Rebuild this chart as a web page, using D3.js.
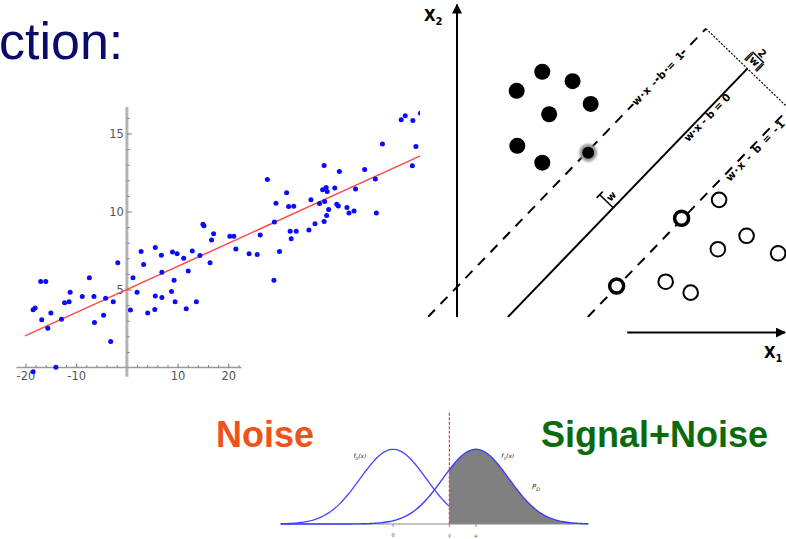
<!DOCTYPE html>
<html>
<head>
<meta charset="utf-8">
<script src="https://cdn.jsdelivr.net/npm/d3@7"></script>
<style>
  body { margin: 0; background: #fff; }
  svg { display: block; }
</style>
</head>
<body>
<div class="svg-container"></div>
<script>
// ---- regression scatter ----
const scatterPoints = [
  [-18.5, 3.70], [-18.1, 3.82], [-17.0, 5.51], [-16.0, 5.51], [-16.8, 3.06], [-15.6, 2.52],
  [-15.0, 3.50], [-12.9, 3.10], [-12.3, 4.15], [-11.4, 4.21], [-11.2, 4.83], [-8.8, 4.55],
  [-7.4, 5.75], [-6.5, 4.55], [-6.4, 2.88], [-4.6, 3.35], [-4.2, 4.44], [-3.2, 1.67],
  [-2.7, 4.21], [-1.8, 6.71], [0.7, 3.68], [1.2, 5.75], [2.0, 4.83], [2.8, 7.44],
  [3.3, 6.60], [4.1, 3.50], [5.6, 7.69], [5.6, 4.59], [5.5, 3.72], [6.8, 7.20],
  [6.9, 6.11], [6.9, 4.49], [8.8, 4.87], [9.0, 7.41], [9.3, 5.60], [9.9, 7.29],
  [9.5, 4.21], [11.2, 7.01], [11.7, 3.76], [12.1, 6.18], [12.9, 7.46], [13.7, 4.21],
  [14.4, 7.18], [15.0, 9.19], [15.2, 9.08], [16.4, 6.71], [16.7, 8.18], [17.1, 8.57],
  [20.3, 8.42], [21.1, 8.42], [21.5, 7.59], [24.1, 7.29], [25.7, 7.24], [26.3, 8.50],
  [27.7, 12.05], [29.0, 5.60], [29.1, 9.32], [29.4, 10.53], [30.1, 7.44], [31.5, 11.20],
  [31.9, 10.32], [32.2, 8.74], [32.4, 8.25], [32.9, 10.34], [33.4, 8.74], [35.9, 8.82],
  [36.3, 10.75], [37.1, 9.21], [38.0, 10.51], [38.6, 11.39], [38.9, 12.95], [38.9, 9.36],
  [39.0, 10.64], [39.3, 11.54], [39.4, 9.74], [39.5, 11.28], [39.8, 10.13], [41.0, 11.50],
  [41.4, 10.47], [41.7, 10.36], [41.9, 12.56], [43.4, 10.26], [43.8, 9.91], [44.8, 10.04],
  [45.1, 11.45], [46.9, 12.69], [49.0, 12.09], [49.2, 9.91], [50.4, 14.32], [54.1, 15.88],
  [54.9, 16.13], [56.3, 12.93], [56.4, 15.83], [57.0, 14.17], [57.9, 16.30],
  [-18.5, -0.27], [-14.0, 0.01]
];
const fitIntercept = 5.0;
const fitSlope = 0.148;
const fitRange = [-20.1, 58.6];
const scatterXTicks = [-20, -10, 10, 20];
const scatterYTicks = [5, 10, 15];

// ---- SVM diagram (x1, x2 units) ----
const svmW = [-0.391, 0.377];
const svmB = -0.637;
const marginLevels = [1, 0, -1];
const marginLabels = ['w\u00b7x - b = 1', 'w\u00b7x - b = 0', 'w\u00b7x - b = -1'];
const classA = [[1.91, 7.24], [2.73, 7.85], [3.70, 7.55], [4.28, 6.82], [2.95, 6.49], [1.93, 5.48], [2.73, 4.94]];
const classASupport = [[4.20, 5.26]];
const classB = [[8.39, 3.75], [9.27, 2.60], [8.35, 2.17], [10.28, 2.04], [6.68, 1.13], [7.48, 0.78]];
const classBSupport = [[7.19, 3.16], [5.11, 0.99]];

// ---- signal detection ----
const noiseMean = 0;
const signalMean = 2.5;
const spread = 1;
const threshold = 1.7;
const sdDomain = [-3.4, 5.9];
const sdTicks = [[0, '0'], [1.7, '\u03b3'], [2.5, '\u03bc']];

const width = 786;
const height = 539;

const svg = d3.select('.svg-container')
  .append('svg')
  .attr('width', width)
  .attr('height', height);

const defs = svg.append('defs');
defs.append('clipPath').attr('id', 'scatterClip')
  .append('rect').attr('x', 0).attr('y', 90).attr('width', 420).attr('height', 300);
defs.append('clipPath').attr('id', 'svmClip')
  .append('rect').attr('x', 428).attr('y', 0).attr('width', 358).attr('height', 317);
defs.append('marker').attr('id', 'arrow')
  .attr('viewBox', '0 0 10 10').attr('refX', 9).attr('refY', 5)
  .attr('markerWidth', 5).attr('markerHeight', 5).attr('orient', 'auto')
  .append('path').attr('d', 'M0,0 L10,5 L0,10 z').attr('fill', '#000');
defs.append('filter').attr('id', 'soft')
  .append('feGaussianBlur').attr('stdDeviation', 1.2);

// slide title fragment
svg.append('text')
  .attr('x', -1).attr('y', 59)
  .style('font-family', 'Liberation Sans, Arial, sans-serif')
  .style('font-size', '52px')
  .style('fill', '#0b0b6b')
  .text('ction:');

// ================= scatter =================
const sx = d3.scaleLinear().domain([-20, 20]).range([25.5, 228.3]);
const sy = d3.scaleLinear().domain([0, 15]).range([367.5, 133.5]);

const sc = svg.append('g').attr('clip-path', 'url(#scatterClip)');

// axis lines
sc.append('line')
  .attr('x1', sx(0)).attr('x2', sx(0))
  .attr('y1', sy(16.7)).attr('y2', sy(-0.6))
  .attr('stroke', '#b4b4b4').attr('stroke-width', 3);
sc.append('line')
  .attr('x1', sx(-21.8)).attr('x2', sx(22.6))
  .attr('y1', sy(0)).attr('y2', sy(0))
  .attr('stroke', '#9a9a9a').attr('stroke-width', 1.6);

// minor ticks
const xMinor = d3.range(-20, 23, 2).filter(d => d % 10 !== 0);
const yMinor = d3.range(1, 17, 1).filter(d => d % 5 !== 0);

sc.append('g')
  .attr('transform', `translate(0,${sy(0)})`)
  .call(d3.axisBottom(sx).tickValues(xMinor).tickSize(-2.5).tickFormat(''))
  .call(g => g.select('.domain').remove())
  .call(g => g.selectAll('line').attr('stroke', '#888'));
sc.append('g')
  .attr('transform', `translate(${sx(0)},0)`)
  .call(d3.axisLeft(sy).tickValues(yMinor).tickSize(-3).tickFormat(''))
  .call(g => g.select('.domain').remove())
  .call(g => g.selectAll('line').attr('stroke', '#888'));

// major ticks + labels
sc.append('g')
  .attr('transform', `translate(0,${sy(0)})`)
  .call(d3.axisBottom(sx).tickValues(scatterXTicks).tickFormat(d => String(d))
    .tickSizeInner(-4).tickSizeOuter(0).tickPadding(4))
  .call(g => g.select('.domain').remove())
  .call(g => g.selectAll('line').attr('stroke', '#777'))
  .call(g => g.selectAll('text')
    .style('font-family', 'DejaVu Sans, sans-serif')
    .style('font-size', '11.5px')
    .attr('fill', '#555'));
sc.append('g')
  .attr('transform', `translate(${sx(0)},0)`)
  .call(d3.axisLeft(sy).tickValues(scatterYTicks).tickFormat(d => String(d))
    .tickSizeInner(-5).tickSizeOuter(0).tickPadding(3))
  .call(g => g.select('.domain').remove())
  .call(g => g.selectAll('line').attr('stroke', '#777'))
  .call(g => g.selectAll('text')
    .style('font-family', 'DejaVu Sans, sans-serif')
    .style('font-size', '11.5px')
    .attr('fill', '#555'));

// fitted line
sc.append('path')
  .datum(fitRange)
  .attr('d', d3.line().x(d => sx(d)).y(d => sy(fitIntercept + fitSlope * d)))
  .attr('stroke', '#ff4a4a')
  .attr('stroke-width', 1.5)
  .attr('fill', 'none');

sc.selectAll('circle.pt')
  .data(scatterPoints)
  .enter()
  .append('circle')
  .attr('class', 'pt')
  .attr('cx', d => sx(d[0]))
  .attr('cy', d => sy(d[1]))
  .attr('r', 2.5)
  .attr('fill', '#0a0aff');

// ================= SVM =================
const ux = d3.scaleLinear().domain([0, 10.5]).range([457, 785]);
const vy = d3.scaleLinear().domain([0, 10]).range([317, 4.6]);

const wNorm = Math.hypot(svmW[0], svmW[1]);
const nHat = [svmW[0] / wNorm, svmW[1] / wNorm];      // toward class A
const along = [nHat[1], -nHat[0]];                      // along the hyperplane, up-right
const marginGap = 1 / wNorm;

// point on the "= 1" line where the margin measure starts
const topU = 7.97;
const topV = (1 + svmB - svmW[0] * topU) / svmW[1];
const endOf = c => [topU - (1 - c) * marginGap * nHat[0], topV - (1 - c) * marginGap * nHat[1]];
const startOf = c => [(c + svmB) / svmW[0], 0];

const sv = svg.append('g').attr('clip-path', 'url(#svmClip)');

sv.selectAll('line.hyper')
  .data(marginLevels)
  .enter()
  .append('line')
  .attr('class', 'hyper')
  .attr('x1', c => ux(startOf(c)[0])).attr('y1', c => vy(startOf(c)[1]))
  .attr('x2', c => ux(endOf(c)[0])).attr('y2', c => vy(endOf(c)[1]))
  .attr('stroke', '#000')
  .attr('stroke-width', 2)
  .attr('stroke-dasharray', c => c === 0 ? null : '10,8');

// margin measure (dotted)
const mEnd = endOf(-1.1);
sv.append('line')
  .attr('x1', ux(topU)).attr('y1', vy(topV))
  .attr('x2', ux(mEnd[0])).attr('y2', vy(mEnd[1]))
  .attr('stroke', '#000').attr('stroke-width', 1.2)
  .attr('stroke-dasharray', '2,1.5');

// 2/||w|| label
const mid = endOf(0);
const fracPos = [ux(mid[0] + 0.5 * along[0]), vy(mid[1] + 0.5 * along[1])];
const frac = svg.append('g')
  .attr('transform', `translate(${fracPos[0]},${fracPos[1]}) rotate(44)`)
  .style('font-family', 'DejaVu Sans, sans-serif')
  .style('font-weight', 'bold')
  .style('font-size', '10.5px');
frac.append('line').attr('x1', -8).attr('x2', 8).attr('y1', 0).attr('y2', 0)
  .attr('stroke', '#000').attr('stroke-width', 1.5);
frac.append('text').attr('text-anchor', 'middle').attr('y', -2).text('2');
frac.append('text').attr('text-anchor', 'middle').attr('y', 9).text('\u2016w\u2016');

// hyperplane labels
const labelU = [6.43, 7.90, 9.43];
const labelOffset = [0, 5, 5];
const labelLen = [70, 62, 80];
marginLevels.forEach((c, i) => {
  const v = (c + svmB - svmW[0] * labelU[i]) / svmW[1];
  const px = ux(labelU[i]) + 0.695 * labelOffset[i];
  const py = vy(v) + 0.719 * labelOffset[i];
  svg.append('text')
    .attr('transform', `translate(${px},${py}) rotate(-46)`)
    .attr('text-anchor', 'middle')
    .attr('dy', '0.35em')
    .attr('textLength', labelLen[i])
    .attr('lengthAdjust', 'spacing')
    .style('font-family', 'DejaVu Sans, sans-serif')
    .style('font-weight', 'bold')
    .style('font-size', '10.5px')
    .style('paint-order', 'stroke')
    .style('stroke', '#fff')
    .style('stroke-width', c === 1 ? 3 : 0)
    .text(marginLabels[i]);
});

// w vector
const wU = 5.0;
const wBase = [wU, (svmB - svmW[0] * wU) / svmW[1]];
const wTip = [wBase[0] + 0.6 * nHat[0], wBase[1] + 0.6 * nHat[1]];
svg.append('line')
  .attr('x1', ux(wBase[0])).attr('y1', vy(wBase[1]))
  .attr('x2', ux(wTip[0])).attr('y2', vy(wTip[1]))
  .attr('stroke', '#000').attr('stroke-width', 1.6);
svg.append('line')
  .attr('x1', ux(wTip[0] - 0.14 * along[0])).attr('y1', vy(wTip[1] - 0.14 * along[1]))
  .attr('x2', ux(wTip[0] + 0.14 * along[0])).attr('y2', vy(wTip[1] + 0.14 * along[1]))
  .attr('stroke', '#000').attr('stroke-width', 1.6);
const wLab = [wBase[0] + 0.3 * nHat[0] + 0.22 * along[0], wBase[1] + 0.3 * nHat[1] + 0.22 * along[1]];
svg.append('text')
  .attr('transform', `translate(${ux(wLab[0])},${vy(wLab[1])}) rotate(-46)`)
  .attr('text-anchor', 'middle').attr('dy', '0.35em')
  .style('font-family', 'DejaVu Sans, sans-serif')
  .style('font-weight', 'bold')
  .style('font-size', '10px')
  .text('w');

// class A (filled)
svg.selectAll('circle.a')
  .data(classA).enter().append('circle').attr('class', 'a')
  .attr('cx', d => ux(d[0])).attr('cy', d => vy(d[1]))
  .attr('r', 8).attr('fill', '#000');
svg.selectAll('circle.ahalo')
  .data(classASupport).enter().append('circle').attr('class', 'ahalo')
  .attr('cx', d => ux(d[0])).attr('cy', d => vy(d[1]))
  .attr('r', 9).attr('fill', '#9a9a9a').attr('filter', 'url(#soft)');
svg.selectAll('circle.asv')
  .data(classASupport).enter().append('circle').attr('class', 'asv')
  .attr('cx', d => ux(d[0])).attr('cy', d => vy(d[1]))
  .attr('r', 6).attr('fill', '#000');

// class B (open)
svg.selectAll('circle.b')
  .data(classB).enter().append('circle').attr('class', 'b')
  .attr('cx', d => ux(d[0])).attr('cy', d => vy(d[1]))
  .attr('r', 7.3).attr('fill', '#fff').attr('stroke', '#000').attr('stroke-width', 2);
svg.selectAll('circle.bsv')
  .data(classBSupport).enter().append('circle').attr('class', 'bsv')
  .attr('cx', d => ux(d[0])).attr('cy', d => vy(d[1]))
  .attr('r', 7).attr('fill', '#fff').attr('stroke', '#000').attr('stroke-width', 3.5);

// axes with arrows
svg.append('line')
  .attr('x1', ux(0)).attr('y1', vy(0)).attr('x2', ux(0)).attr('y2', vy(10))
  .attr('stroke', '#000').attr('stroke-width', 2).attr('marker-end', 'url(#arrow)');
svg.append('line')
  .attr('x1', ux(5.45)).attr('y1', vy(-0.5)).attr('x2', ux(10.5)).attr('y2', vy(-0.5))
  .attr('stroke', '#000').attr('stroke-width', 2).attr('marker-end', 'url(#arrow)');

const axisLab = (x, y, sub) => {
  const t = svg.append('text').attr('x', x).attr('y', y)
    .style('font-family', 'DejaVu Sans, sans-serif')
    .style('font-weight', 'bold')
    .style('font-size', '15px');
  t.append('tspan').text('X');
  t.append('tspan').attr('dy', 4).style('font-size', '10px').text(sub);
};
axisLab(424, 21, '2');
axisLab(764, 358, '1');

// ================= signal detection =================
const dx = d3.scaleLinear().domain(sdDomain).range([280.7, 588.3]);
const dy = d3.scaleLinear().domain([0, 1 / Math.sqrt(2 * Math.PI)]).range([524, 449.3]);
const pdf = (x, m) => Math.exp(-0.5 * ((x - m) / spread) ** 2) / (spread * Math.sqrt(2 * Math.PI));

const grid = d3.range(sdDomain[0], sdDomain[1] + 0.001, 0.05);
const tail = [threshold].concat(grid.filter(x => x > threshold));
const head = grid.filter(x => x < threshold).concat([threshold]);

svg.append('path')
  .datum(tail)
  .attr('d', d3.area().x(d => dx(d)).y0(dy(0)).y1(d => dy(pdf(d, signalMean))))
  .attr('fill', '#808080');

svg.append('line')
  .attr('x1', dx(sdDomain[0])).attr('x2', dx(sdDomain[1]))
  .attr('y1', dy(0)).attr('y2', dy(0))
  .attr('stroke', '#888').attr('stroke-width', 1);

svg.selectAll('line.sdtick')
  .data(sdTicks).enter().append('line').attr('class', 'sdtick')
  .attr('x1', d => dx(d[0])).attr('x2', d => dx(d[0]))
  .attr('y1', dy(0)).attr('y2', dy(0) + 3)
  .attr('stroke', '#666').attr('stroke-width', 0.7);
svg.selectAll('text.sdtick')
  .data(sdTicks).enter().append('text').attr('class', 'sdtick')
  .attr('x', d => dx(d[0])).attr('y', dy(0) + 13)
  .attr('text-anchor', 'middle')
  .style('font-family', 'DejaVu Sans, sans-serif')
  .style('font-size', '5px')
  .attr('fill', '#444')
  .text(d => d[1]);

const curve = m => d3.line().x(d => dx(d)).y(d => dy(pdf(d, m)));
svg.append('path').datum(head).attr('d', curve(noiseMean))
  .attr('fill', 'none').attr('stroke', '#4646ff').attr('stroke-width', 1.3);
svg.append('path').datum(grid).attr('d', curve(signalMean))
  .attr('fill', 'none').attr('stroke', '#3c3cff').attr('stroke-width', 1.4);

svg.append('line')
  .attr('x1', dx(threshold)).attr('x2', dx(threshold))
  .attr('y1', 412.7).attr('y2', dy(0))
  .attr('stroke', '#ff3030').attr('stroke-width', 1.2)
  .attr('stroke-dasharray', '3,1.5');

const mathLab = (x, y, main, sub, size) => {
  const t = svg.append('text').attr('x', x).attr('y', y)
    .style('font-family', 'DejaVu Sans, sans-serif')
    .style('font-style', 'italic')
    .style('font-size', size + 'px')
    .attr('fill', '#222');
  t.append('tspan').text(main[0]);
  t.append('tspan').attr('dy', size * 0.3).style('font-size', (size * 0.7) + 'px').text(sub);
  if (main.length > 1) t.append('tspan').attr('dy', -size * 0.3).text(main.slice(1));
};
mathLab(dx(-1.2), 458, 'f(x)', '0', 6);
mathLab(dx(3.27), 458, 'f(x)', '1', 6);
mathLab(dx(4.2), 489, 'P', 'D', 7);

// big labels
svg.append('text')
  .attr('x', 216).attr('y', 447)
  .style('font-family', 'Liberation Sans, Arial, sans-serif')
  .style('font-weight', 'bold')
  .style('font-size', '36px')
  .style('fill', '#f2521a')
  .text('Noise');
svg.append('text')
  .attr('x', 541).attr('y', 447)
  .style('font-family', 'Liberation Sans, Arial, sans-serif')
  .style('font-weight', 'bold')
  .style('font-size', '36px')
  .style('fill', '#0b6b0b')
  .text('Signal+Noise');
</script>
</body>
</html>
